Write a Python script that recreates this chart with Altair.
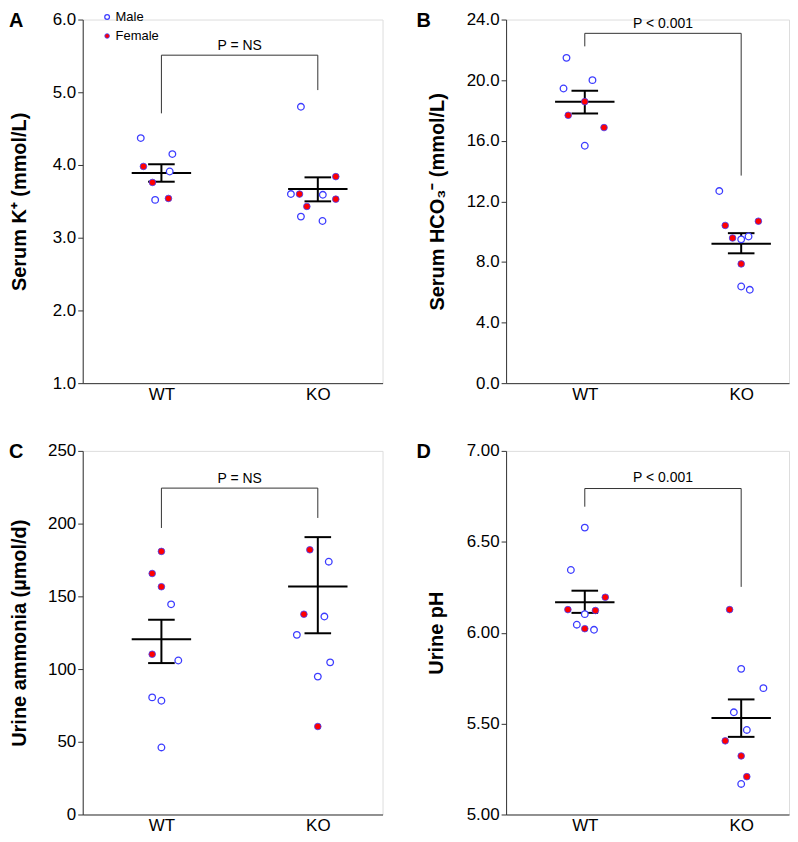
import altair as alt
import pandas as pd

groups = ["WT", "KO"]
sex_levels = ["Male", "Female"]

# ---------- Panel A: Serum K+ ----------
a_wt_vals = [4.37, 4.15, 3.98, 3.91, 3.76, 3.52, 3.54]
a_wt_sex = ["Male", "Male", "Female", "Male", "Female", "Male", "Female"]
a_wt_jit = [-0.132, 0.070, -0.115, 0.053, -0.057, -0.040, 0.045]
a_ko_vals = [4.80, 3.84, 3.60, 3.60, 3.59, 3.53, 3.43, 3.29, 3.23]
a_ko_sex = ["Male", "Female", "Male", "Female", "Male", "Female", "Female", "Male", "Male"]
a_ko_jit = [-0.108, 0.115, -0.172, -0.117, 0.032, 0.115, -0.070, -0.108, 0.030]
a_mean = [3.89, 3.67]
a_sem_hi = [4.01, 3.83]
a_sem_lo = [3.77, 3.50]
a_bracket = [4.71, 5.51, 5.03]   # WT leg end, bar level, KO leg end
a_p = "P = NS"
a_p_y = 5.64

# ---------- Panel B: Serum HCO3- ----------
b_wt_vals = [21.47, 20.0, 19.45, 18.58, 17.68, 16.87, 15.67]
b_wt_sex = ["Male", "Male", "Male", "Female", "Female", "Female", "Male"]
b_wt_jit = [-0.117, 0.049, -0.136, 0.0, -0.106, 0.123, 0.0]
b_ko_vals = [12.68, 10.69, 10.41, 9.68, 9.58, 9.49, 7.87, 6.38, 6.16]
b_ko_sex = ["Male", "Female", "Female", "Male", "Female", "Male", "Female", "Male", "Male"]
b_ko_jit = [-0.140, 0.110, -0.102, 0.047, -0.055, 0.0, 0.0, 0.0, 0.055]
b_mean = [18.58, 9.20]
b_sem_hi = [19.30, 9.90]
b_sem_lo = [17.80, 8.57]
b_bracket = [22.23, 23.09, 13.70]
b_p = "P < 0.001"
b_p_y = 23.7

# ---------- Panel C: Urine ammonia ----------
c_wt_vals = [180.9, 165.7, 156.6, 144.5, 110.2, 105.9, 80.5, 78.2, 46.1]
c_wt_sex = ["Female", "Female", "Female", "Male", "Female", "Male", "Male", "Male", "Male"]
c_wt_jit = [0.0, -0.059, 0.0, 0.062, -0.059, 0.108, -0.059, 0.0, 0.0]
c_ko_vals = [182.0, 173.8, 137.7, 136.1, 123.5, 104.6, 94.8, 60.5]
c_ko_sex = ["Female", "Male", "Female", "Male", "Male", "Male", "Male", "Female"]
c_ko_jit = [-0.051, 0.070, -0.089, 0.042, -0.134, 0.079, 0.0, 0.0]
c_mean = [120.5, 156.8]
c_sem_hi = [133.9, 190.7]
c_sem_lo = [104.1, 124.6]
c_bracket = [197.0, 224.4, 203.9]
c_p = "P = NS"
c_p_y = 231.0

# ---------- Panel D: Urine pH ----------
d_wt_vals = [6.578, 6.345, 6.195, 6.127, 6.122, 6.102, 6.044, 6.022, 6.016]
d_wt_sex = ["Male", "Male", "Female", "Female", "Female", "Male", "Male", "Female", "Male"]
d_wt_jit = [0.0, -0.089, 0.131, -0.108, 0.068, 0.0, -0.051, 0.0, 0.059]
d_ko_vals = [6.127, 5.801, 5.695, 5.562, 5.465, 5.405, 5.322, 5.208, 5.168]
d_ko_sex = ["Female", "Male", "Male", "Male", "Male", "Female", "Female", "Female", "Male"]
d_ko_jit = [-0.074, 0.0, 0.142, -0.047, 0.036, -0.102, 0.0, 0.036, 0.0]
d_mean = [6.168, 5.531]
d_sem_hi = [6.231, 5.633]
d_sem_lo = [6.109, 5.427]
d_bracket = [6.693, 6.793, 6.252]
d_p = "P < 0.001"
d_p_y = 6.85

FONT = "Liberation Sans"
BLUE = "#3c3cff"
RED = "#ff0000"
LINE = "#333333"
HEIGHT = 365


def make_panel(letter, wt_vals, wt_sex, wt_jit, ko_vals, ko_sex, ko_jit,
               mean, hi, lo, bracket, p_text, p_y,
               ydomain, yticks, yfmt, ytitle, width, title_x, letter_x,
               with_legend):
    height = HEIGHT
    xmin = -79 / 157
    xmax = (width - 79) / 157
    pts = pd.DataFrame({
        "g": [0] * len(wt_vals) + [1] * len(ko_vals),
        "jit": list(wt_jit) + list(ko_jit),
        "val": list(wt_vals) + list(ko_vals),
        "sex": list(wt_sex) + list(ko_sex),
    })
    summ = pd.DataFrame({"g": [0, 1], "mean": mean, "hi": hi, "lo": lo})
    br = pd.DataFrame({
        "g": [0, 0, 1, 1],
        "val": [bracket[0], bracket[1], bracket[1], bracket[2]],
        "ord": [0, 1, 2, 3],
    })
    lab = pd.DataFrame({"g": [0.5], "val": [p_y], "t": [p_text]})
    let = pd.DataFrame({"t": [letter]})

    xs = alt.Scale(domain=[xmin, xmax], nice=False, zero=False)
    ys = alt.Scale(domain=ydomain, nice=False, zero=False)
    xax = alt.Axis(values=[0, 1], labelExpr="datum.value == 0 ? 'WT' : 'KO'",
                   ticks=False, grid=False, title=None, labelPadding=3,
                   labelFontSize=17, labelFont=FONT, labelColor="black",
                   labelFlush=False, domainColor=LINE)
    yax = alt.Axis(values=yticks, format=yfmt, grid=False, title=ytitle,
                   tickSize=5, labelPadding=2, labelFontSize=17, labelFont=FONT,
                   labelColor="black", labelFlush=False, labelOverlap=False,
                   titleFont=FONT, titleFontSize=20,
                   titleFontWeight="bold", titleColor="black",
                   titleX=title_x, titleY=height / 2, titleAngle=-90,
                   titleAlign="center", titleBaseline="bottom",
                   domainColor=LINE, tickColor=LINE)

    def X(f):
        return alt.X(f, type="quantitative", scale=xs, axis=xax)

    def Y(f):
        return alt.Y(f, type="quantitative", scale=ys, axis=yax)

    bracket_layer = alt.Chart(br).mark_line(color=LINE, strokeWidth=1).encode(
        x=X("g"), y=Y("val"), order="ord:Q")
    ptext = alt.Chart(lab).mark_text(fontSize=14, font=FONT, color="black",
                                     baseline="middle").encode(
        x=X("g"), y=Y("val"), text="t:N")
    base = alt.Chart(summ)
    mean_line = base.transform_calculate(
        x1="datum.g - 0.19", x2="datum.g + 0.19").mark_rule(
        color="black", strokeWidth=2).encode(x=X("x1"), x2="x2:Q", y=Y("mean"))
    vline = base.mark_rule(color="black", strokeWidth=2).encode(
        x=X("g"), y=Y("lo"), y2="hi:Q")
    cap_hi = base.transform_calculate(
        x1="datum.g - 0.085", x2="datum.g + 0.085").mark_rule(
        color="black", strokeWidth=2).encode(x=X("x1"), x2="x2:Q", y=Y("hi"))
    cap_lo = base.transform_calculate(
        x1="datum.g - 0.085", x2="datum.g + 0.085").mark_rule(
        color="black", strokeWidth=2).encode(x=X("x1"), x2="x2:Q", y=Y("lo"))
    legend = alt.Legend(title=None, orient="none", legendX=18, legendY=-9,
                        symbolType="circle", symbolSize=22,
                        symbolStrokeColor=BLUE, symbolStrokeWidth=1.2,
                        labelFontSize=13, labelFont=FONT,
                        labelColor="black", rowPadding=5,
                        symbolOffset=0, labelOffset=2,
                        padding=0)
    points = alt.Chart(pts).transform_calculate(
        xp="datum.g + datum.jit").mark_point(
        shape="circle", size=44, stroke=BLUE, opacity=1).encode(
        x=X("xp"), y=Y("val"),
        fill=alt.Fill("sex:N", scale=alt.Scale(domain=sex_levels, range=["white", RED]),
                      legend=legend if with_legend else None),
        strokeWidth=alt.StrokeWidth("sex:N", scale=alt.Scale(domain=sex_levels, range=[1.3, 0.8]),
                                    legend=None))
    letter_layer = alt.Chart(let).mark_text(
        fontSize=20, fontWeight="bold", font=FONT, color="black",
        align="left", baseline="alphabetic").encode(
        x=alt.value(letter_x), y=alt.value(7), text="t:N")
    return alt.layer(bracket_layer, ptext, mean_line, vline, cap_hi, cap_lo,
                     points, letter_layer).properties(width=width, height=height)


A = make_panel("A", a_wt_vals, a_wt_sex, a_wt_jit, a_ko_vals, a_ko_sex, a_ko_jit,
               a_mean, a_sem_hi, a_sem_lo, a_bracket, a_p, a_p_y,
               [1, 6], [1, 2, 3, 4, 5, 6], ".1f", "Serum K⁺ (mmol/L)",
               301, -53, -74, True)
B = make_panel("B", b_wt_vals, b_wt_sex, b_wt_jit, b_ko_vals, b_ko_sex, b_ko_jit,
               b_mean, b_sem_hi, b_sem_lo, b_bracket, b_p, b_p_y,
               [0, 24], [0, 4, 8, 12, 16, 20, 24], ".1f", "Serum HCO₃⁻ (mmol/L)",
               284, -59, -90, False)
C = make_panel("C", c_wt_vals, c_wt_sex, c_wt_jit, c_ko_vals, c_ko_sex, c_ko_jit,
               c_mean, c_sem_hi, c_sem_lo, c_bracket, c_p, c_p_y,
               [0, 250], [0, 50, 100, 150, 200, 250], "d", "Urine ammonia (µmol/d)",
               301, -53, -74, False)
D = make_panel("D", d_wt_vals, d_wt_sex, d_wt_jit, d_ko_vals, d_ko_sex, d_ko_jit,
               d_mean, d_sem_hi, d_sem_lo, d_bracket, d_p, d_p_y,
               [5, 7], [5.0, 5.5, 6.0, 6.5, 7.0], ".2f", "Urine pH",
               284, -60, -90, False)

chart = alt.vconcat(
    alt.hconcat(A, B, spacing=32).resolve_scale(fill="independent", strokeWidth="independent"),
    alt.hconcat(C, D, spacing=32).resolve_scale(fill="independent", strokeWidth="independent"),
    spacing=38,
).resolve_scale(fill="independent", strokeWidth="independent").properties(
    padding={"left": 0, "top": 0, "right": 0, "bottom": 0}
).configure_view(stroke=None).configure(background="white")

chart.save("out.html", embed_options={"renderer": "svg", "actions": False})
